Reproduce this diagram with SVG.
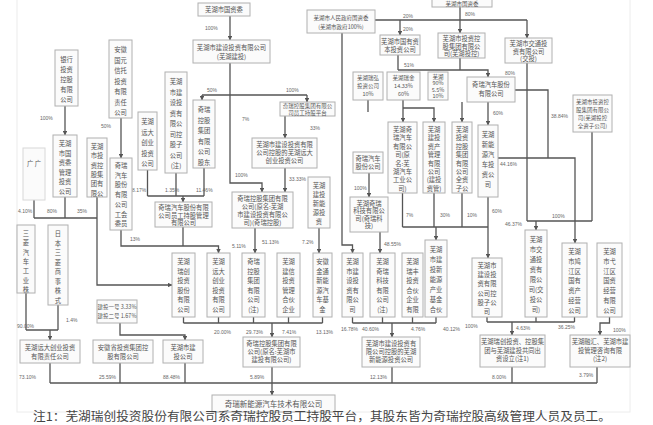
<svg xmlns="http://www.w3.org/2000/svg" width="653" height="425" viewBox="0 0 653 425">
<style>
.b{fill:#fbfbfb;stroke:#b0b0b0;stroke-width:1}
.f{fill:#fbfbfb;stroke:#d8d8d8;stroke-width:1}
.t{font-family:"Noto Sans CJK SC","Noto Sans",sans-serif;font-size:6.3px;fill:#555;text-anchor:middle}
.s{font-size:5.5px}
.p{font-family:"Liberation Sans","Noto Sans CJK SC",sans-serif;font-size:5px;fill:#666}
.c{fill:none;stroke:#555;stroke-width:1.3}
.a{marker-end:url(#ar)}
.note{font-family:"Noto Sans CJK SC",sans-serif;font-size:12px;fill:#444}
</style>
<defs>
<marker id="ar" viewBox="0 0 6 6" refX="5.5" refY="3" markerWidth="3.6" markerHeight="3.6" orient="auto"><path d="M0,0L6,3L0,6z" fill="#555"/></marker>
</defs>
<rect x="0" y="0" width="653" height="425" fill="#fff"/>
<rect x="17" y="-1" width="613" height="413" fill="none" stroke="#ececec"/>

<g id="connectors">
<path class="c a" d="M230,16V40"/>
<path class="c a" d="M230,63V183H262V192"/>
<path class="c" d="M202,95H307"/>
<path class="c a" d="M202,95V100"/>
<path class="c a" d="M307,95V102"/>
<path class="c a" d="M285,116V138"/>
<path class="c a" d="M285,168V192"/>
<path class="c" d="M147.5,170V196M176,173V196M204,168V196M147.5,196H204"/>
<path class="c a" d="M183,196V202"/>
<path class="c a" d="M121,118V158"/>
<path class="c a" d="M65,106V135"/>
<path class="c" d="M34,200V218M65,197V218M34,218H97"/>
<path class="c a" d="M97,197V285H172"/>
<path class="c" d="M183,227V246"/>
<path class="c a" d="M121,230V246H218.5V253"/>
<path class="c a" d="M255,228V253"/>
<path class="c a" d="M319,228V253"/>
<path class="c a" d="M342,33V245H352.5V253"/>
<path class="c" d="M375,20H527"/>
<path class="c a" d="M400,20V35"/>
<path class="c a" d="M460,7V33"/>
<path class="c a" d="M527,20V38"/>
<path class="c" d="M398,55V70M460,58V70"/>
<path class="c a" d="M398,70H488V77"/>
<path class="c" d="M368,100V112"/>
<path class="c a" d="M403,100V122"/>
<path class="c a" d="M403,108H434V122"/>
<path class="c a" d="M462,102V122"/>
<path class="c a" d="M488,102V125"/>
<path class="c" d="M515,90H548V158"/>
<path class="c a" d="M498,158H575V243"/>
<path class="c" d="M527,63V221M592,132V221M527,221H592"/>
<path class="c a" d="M536,221V230"/>
<path class="c" d="M402.5,193V227M434,193V227M462,193V227M402.5,227H488"/>
<path class="c a" d="M488,197V258"/>
<path class="c a" d="M436,227V240"/>
<path class="c a" d="M369,173V197"/>
<path class="c a" d="M380,232V253"/>
<path class="c" d="M183.5,317V323M218.5,317V323M253.5,317V323M288.5,317V323M322.5,317V323M183.5,323H322.5"/>
<path class="c a" d="M272,323V337"/>
<path class="c" d="M352.5,317V323M382.5,317V323M412.5,317V323M436,317V323M352.5,323H436"/>
<path class="c a" d="M392,323V337"/>
<path class="c" d="M487,317V322M536,317V322M574.5,317V322M487,322H574.5"/>
<path class="c a" d="M512,322V335"/>
<path class="c a" d="M609.5,317V323H600V335"/>
<path class="c" d="M26,293V330M58,305V330M26,330H58"/>
<path class="c a" d="M50,330V340"/>
<path class="c a" d="M120,323V335H185V340"/>
<path class="c" d="M50,363V383M120,363V383M185,363V383M272,367V383M392,367V383M512,367V383M597,367V383M50,383H597"/>
<path class="c a" d="M272,383V395"/>
</g>

<g id="labels" class="p">
<text x="205" y="30">100%</text>
<text x="207" y="92">50%</text>
<text x="286" y="92">100%</text>
<text x="242" y="121">7%</text>
<text x="310" y="130">33%</text>
<text x="235" y="177">100%</text>
<text x="289" y="181">33.33%</text>
<text x="40" y="120">100%</text>
<text x="101" y="128">50%</text>
<text x="132" y="192">8.17%</text>
<text x="165" y="192">1.35%</text>
<text x="196" y="192">11.46%</text>
<text x="130" y="241">13%</text>
<text x="18" y="213">4.10%</text>
<text x="47" y="213">80%</text>
<text x="77" y="213">35%</text>
<text x="232" y="248">5.11%</text>
<text x="262" y="244">51.13%</text>
<text x="302" y="244">7.2%</text>
<text x="384" y="246">48.55%</text>
<text x="403" y="18">20%</text>
<text x="403" y="31">20%</text>
<text x="465" y="16">80%</text>
<text x="404" y="67">51%</text>
<text x="505" y="75">80%</text>
<text x="493" y="115">60%</text>
<text x="551" y="118">38.84%</text>
<text x="500" y="166">44.16%</text>
<text x="354" y="190">100%</text>
<text x="406" y="217">7%</text>
<text x="440" y="217">30%</text>
<text x="467" y="217">10%</text>
<text x="492" y="213">60%</text>
<text x="505" y="226">46.37%</text>
<text x="552" y="218">100%</text>
<text x="214" y="334">20.00%</text>
<text x="246" y="334">29.73%</text>
<text x="282" y="334">7.41%</text>
<text x="316" y="334">13.13%</text>
<text x="341" y="331">16.78%</text>
<text x="362" y="331">40.60%</text>
<text x="411" y="331">4.76%</text>
<text x="443" y="331">40.12%</text>
<text x="465" y="328">100%</text>
<text x="516" y="330">4.63%</text>
<text x="558" y="329">36.25%</text>
<text x="613" y="332">100%</text>
<text x="66" y="322">1.4%</text>
<text x="17" y="328">90.00%</text>
<text x="19" y="379">73.10%</text>
<text x="99" y="379">25.59%</text>
<text x="163" y="379">88.48%</text>
<text x="250" y="379">5.89%</text>
<text x="370" y="379">12.13%</text>
<text x="492" y="379">8.00%</text>
<text x="579" y="377">3.79%</text>
</g>

<g id="B1"><rect class="b" x="198" y="3" width="52" height="13"/><text class="t" x="224" y="12">芜湖市国资委</text></g>
<g id="B2"><rect class="b" x="193" y="40" width="77" height="23"/><text class="t" x="231.5" y="49.5">芜湖市建设投资有限公司</text><text class="t" x="231.5" y="58.5">(芜湖建投)</text></g>
<g id="B3"><rect class="b" x="307" y="10" width="68" height="23"/><text class="t s" x="341" y="19.5">芜湖市人民政府国资委</text><text class="t s" x="341" y="28.5">(芜湖市政府100%)</text></g>
<g id="B4"><rect class="b" x="432" y="-3" width="60" height="10"/><text class="t s" x="462" y="5.6">芜湖市国资委</text></g>
<g id="B5"><rect class="b" x="380" y="35" width="40" height="20"/><text class="t" x="400" y="43.5">芜湖市国有资</text><text class="t" x="400" y="51.5">本投资公司</text></g>
<g id="B6"><rect class="b" x="438" y="33" width="47" height="25"/><text class="t" x="461.5" y="41">芜湖市投资控</text><text class="t" x="461.5" y="48.5">股集团有限公</text><text class="t" x="461.5" y="56">司(芜湖投控)</text></g>
<g id="B7"><rect class="b" x="505" y="38" width="47" height="25"/><text class="t" x="528.5" y="46">芜湖市交通投</text><text class="t" x="528.5" y="53.5">资有限公司</text><text class="t" x="528.5" y="61">(交投)</text></g>
<g id="M5"><rect class="b" x="280" y="102" width="55" height="14"/><text class="t s" x="307.5" y="108">奇瑞控股集团有限公</text><text class="t s" x="307.5" y="114.5">司员工持股平台</text></g>
<g id="M6"><rect class="b" x="252" y="138" width="65" height="30"/><text class="t" x="284.5" y="147">芜湖市建设投资有限</text><text class="t" x="284.5" y="155">公司控股的芜湖远大</text><text class="t" x="284.5" y="163">创业投资公司</text></g>
<g id="M2"><rect class="b" x="232" y="192" width="61" height="36"/><text class="t" x="262.5" y="200.5">奇瑞控股集团有限</text><text class="t" x="262.5" y="208.5">公司(原名:芜湖</text><text class="t" x="262.5" y="216.5">市建设投资有限公</text><text class="t" x="262.5" y="224.5">司)(奇瑞控股)</text></g>
<g id="M1"><rect class="b" x="155" y="202" width="57" height="25"/><text class="t" x="183.5" y="210">奇瑞汽车股份有限</text><text class="t" x="183.5" y="217.5">公司员工持股管理</text><text class="t" x="183.5" y="225">有限公司</text></g>
<g id="R1"><rect class="b" x="353" y="72" width="30" height="28"/><text class="t s" x="368" y="80">芜湖瑞弘</text><text class="t s" x="368" y="88">投资公司</text><text class="t s" x="368" y="96">10%</text></g>
<g id="R2"><rect class="b" x="387" y="72" width="33" height="28"/><text class="t s" x="403.5" y="80">芜湖瑞金</text><text class="t s" x="403.5" y="88">14.33%</text><text class="t s" x="403.5" y="96">60%</text></g>
<g id="R3"><rect class="b" x="428" y="72" width="20" height="28"/><text class="t s" x="438" y="78.5">芜湖</text><text class="t s" x="438" y="85">90%</text><text class="t s" x="438" y="91.5">5.5%</text><text class="t s" x="438" y="98">10%</text></g>
<g id="B8"><rect class="b" x="467" y="77" width="48" height="25"/><text class="t" x="491" y="87">奇瑞汽车股份</text><text class="t" x="491" y="96">有限公司</text></g>
<g id="B9"><rect class="b" x="573" y="95" width="39" height="37"/><text class="t s" x="592.5" y="104">芜湖市投资控</text><text class="t s" x="592.5" y="112">股集团有限公</text><text class="t s" x="592.5" y="120">司(芜湖投控</text><text class="t s" x="592.5" y="128">全资子公司)</text></g>
<g id="R8"><rect class="b" x="353" y="152" width="30" height="21"/><text class="t" x="368" y="161">奇瑞汽车</text><text class="t" x="368" y="169">股份公司</text></g>
<g id="R9"><rect class="b" x="350" y="197" width="38" height="35"/><text class="t" x="369" y="205.5">芜湖奇瑞</text><text class="t" x="369" y="213">科技有限公</text><text class="t" x="369" y="220.5">司(奇瑞科</text><text class="t" x="369" y="228">技)</text></g>

<g id="L1"><rect class="b" x="55" y="50" width="23" height="56"/><text class="t" x="66.5" y="62"><tspan x="66.5" dy="0">银行</tspan><tspan x="66.5" dy="10">投资</tspan><tspan x="66.5" dy="10">控股</tspan><tspan x="66.5" dy="10">有限</tspan><tspan x="66.5" dy="10">公司</tspan></text></g>
<g id="L2"><rect class="b" x="109" y="40" width="23" height="78"/><text class="t" x="120.5" y="52"><tspan x="120.5" dy="0">安徽</tspan><tspan x="120.5" dy="10.5">国元</tspan><tspan x="120.5" dy="10.5">信托</tspan><tspan x="120.5" dy="10.5">投资</tspan><tspan x="120.5" dy="10.5">有限</tspan><tspan x="120.5" dy="10.5">责任</tspan><tspan x="120.5" dy="10.5">公司</tspan></text></g>
<g id="L3"><rect class="b" x="138" y="112" width="19" height="58"/><text class="t" x="147.5" y="124"><tspan x="147.5" dy="0">芜湖</tspan><tspan x="147.5" dy="10.5">远大</tspan><tspan x="147.5" dy="10.5">创业</tspan><tspan x="147.5" dy="10.5">投资</tspan><tspan x="147.5" dy="10.5">公司</tspan></text></g>
<g id="L4"><rect class="b" x="165" y="72" width="22" height="101"/><text class="t" x="176" y="84"><tspan x="176" dy="0">芜湖</tspan><tspan x="176" dy="10.5">市建</tspan><tspan x="176" dy="10.5">设投</tspan><tspan x="176" dy="10.5">资有</tspan><tspan x="176" dy="10.5">限公</tspan><tspan x="176" dy="10.5">司控</tspan><tspan x="176" dy="10.5">股子</tspan><tspan x="176" dy="10.5">公司</tspan><tspan x="176" dy="10.5">(注)</tspan></text></g>
<g id="L5"><rect class="b" x="193" y="100" width="22" height="68"/><text class="t" x="204" y="112"><tspan x="204" dy="0">奇瑞</tspan><tspan x="204" dy="10.5">控股</tspan><tspan x="204" dy="10.5">集团</tspan><tspan x="204" dy="10.5">有限</tspan><tspan x="204" dy="10.5">公司</tspan><tspan x="204" dy="10.5">股东</tspan></text></g>
<g id="L6"><rect class="b" x="110" y="158" width="22" height="72"/><text class="t" x="121" y="168"><tspan x="121" dy="0">奇瑞</tspan><tspan x="121" dy="9.7">汽车</tspan><tspan x="121" dy="9.7">股份</tspan><tspan x="121" dy="9.7">有限</tspan><tspan x="121" dy="9.7">公司</tspan><tspan x="121" dy="9.7">工会</tspan><tspan x="121" dy="9.7">委员</tspan></text></g>
<g id="L7"><rect class="b" x="53" y="135" width="24" height="62"/><text class="t" x="65" y="146"><tspan x="65" dy="0">芜湖</tspan><tspan x="65" dy="9.5">市国</tspan><tspan x="65" dy="9.5">资委</tspan><tspan x="65" dy="9.5">管理</tspan><tspan x="65" dy="9.5">投资</tspan><tspan x="65" dy="9.5">公司</tspan></text></g>
<g id="L8"><rect class="b" x="87" y="138" width="20" height="59"/><text class="t" x="97" y="149"><tspan x="97" dy="0">芜湖</tspan><tspan x="97" dy="9.3">市投</tspan><tspan x="97" dy="9.3">资控</tspan><tspan x="97" dy="9.3">股集</tspan><tspan x="97" dy="9.3">团有</tspan><tspan x="97" dy="9.3">限公</tspan></text></g>
<g id="L9"><rect class="f" x="23" y="148" width="22" height="52"/><text class="t" x="34" y="166" fill="#999">广 广</text></g>
<g id="L10"><rect class="b" x="17" y="225" width="18" height="68"/><text class="t" x="26" y="236"><tspan x="26" dy="0">三</tspan><tspan x="26" dy="9.3">菱</tspan><tspan x="26" dy="9.3">汽</tspan><tspan x="26" dy="9.3">车</tspan><tspan x="26" dy="9.3">工</tspan><tspan x="26" dy="9.3">业</tspan><tspan x="26" dy="9.3">株</tspan></text></g>
<g id="L11"><rect class="b" x="48" y="225" width="20" height="80"/><text class="t" x="58" y="236"><tspan x="58" dy="0">日</tspan><tspan x="58" dy="9.5">本</tspan><tspan x="58" dy="9.5">三</tspan><tspan x="58" dy="9.5">菱</tspan><tspan x="58" dy="9.5">商</tspan><tspan x="58" dy="9.5">事</tspan><tspan x="58" dy="9.5">株</tspan><tspan x="58" dy="9.5">式</tspan></text></g>
<g id="MX"><rect class="b" x="308" y="177" width="22" height="51"/><text class="t" x="319" y="188"><tspan x="319" dy="0">芜湖</tspan><tspan x="319" dy="9">建投</tspan><tspan x="319" dy="9">新能</tspan><tspan x="319" dy="9">源投</tspan><tspan x="319" dy="9">资</tspan></text></g>

<g id="MB1"><rect class="b" x="172" y="253" width="23" height="64"/><text class="t" x="183.5" y="264"><tspan x="183.5" dy="0">芜湖</tspan><tspan x="183.5" dy="9.6">瑞创</tspan><tspan x="183.5" dy="9.6">投资</tspan><tspan x="183.5" dy="9.6">股份</tspan><tspan x="183.5" dy="9.6">有限</tspan><tspan x="183.5" dy="9.6">公司</tspan></text></g>
<g id="MB2"><rect class="b" x="207" y="253" width="23" height="64"/><text class="t" x="218.5" y="264"><tspan x="218.5" dy="0">芜湖</tspan><tspan x="218.5" dy="9.6">远大</tspan><tspan x="218.5" dy="9.6">创业</tspan><tspan x="218.5" dy="9.6">投资</tspan><tspan x="218.5" dy="9.6">有限</tspan><tspan x="218.5" dy="9.6">公司</tspan></text></g>
<g id="MB3"><rect class="b" x="242" y="253" width="23" height="64"/><text class="t" x="253.5" y="264"><tspan x="253.5" dy="0">奇瑞</tspan><tspan x="253.5" dy="9.6">控股</tspan><tspan x="253.5" dy="9.6">集团</tspan><tspan x="253.5" dy="9.6">有限</tspan><tspan x="253.5" dy="9.6">公司</tspan><tspan x="253.5" dy="9.6">(注)</tspan></text></g>
<g id="MB4"><rect class="b" x="277" y="253" width="23" height="64"/><text class="t" x="288.5" y="264"><tspan x="288.5" dy="0">芜湖</tspan><tspan x="288.5" dy="9.6">建信</tspan><tspan x="288.5" dy="9.6">投资</tspan><tspan x="288.5" dy="9.6">管理</tspan><tspan x="288.5" dy="9.6">合伙</tspan><tspan x="288.5" dy="9.6">企业</tspan></text></g>
<g id="MB5"><rect class="b" x="313" y="253" width="19" height="64"/><text class="t" x="322.5" y="264"><tspan x="322.5" dy="0">安徽</tspan><tspan x="322.5" dy="9.6">金通</tspan><tspan x="322.5" dy="9.6">新能</tspan><tspan x="322.5" dy="9.6">源汽</tspan><tspan x="322.5" dy="9.6">车基</tspan><tspan x="322.5" dy="9.6">金</tspan></text></g>
<g id="MB6"><rect class="b" x="342" y="253" width="21" height="64"/><text class="t" x="352.5" y="264"><tspan x="352.5" dy="0">芜湖</tspan><tspan x="352.5" dy="9.6">市建</tspan><tspan x="352.5" dy="9.6">设投</tspan><tspan x="352.5" dy="9.6">资有</tspan><tspan x="352.5" dy="9.6">限公</tspan><tspan x="352.5" dy="9.6">司</tspan></text></g>
<g id="MB7"><rect class="b" x="370" y="253" width="25" height="64"/><text class="t" x="382.5" y="264"><tspan x="382.5" dy="0">芜湖</tspan><tspan x="382.5" dy="9.6">奇瑞</tspan><tspan x="382.5" dy="9.6">科技</tspan><tspan x="382.5" dy="9.6">有限</tspan><tspan x="382.5" dy="9.6">公司</tspan><tspan x="382.5" dy="9.6">(注)</tspan></text></g>
<g id="MB8"><rect class="b" x="402" y="253" width="21" height="64"/><text class="t" x="412.5" y="264"><tspan x="412.5" dy="0">芜湖</tspan><tspan x="412.5" dy="9.6">瑞丰</tspan><tspan x="412.5" dy="9.6">投资</tspan><tspan x="412.5" dy="9.6">合伙</tspan><tspan x="412.5" dy="9.6">企业</tspan><tspan x="412.5" dy="9.6">有限</tspan></text></g>

<g id="R4"><rect class="b" x="388" y="122" width="29" height="71"/><text class="t" x="402.5" y="132"><tspan x="402.5" dy="0">芜湖奇</tspan><tspan x="402.5" dy="8.4">瑞汽车</tspan><tspan x="402.5" dy="8.4">有限公</tspan><tspan x="402.5" dy="8.4">司(原</tspan><tspan x="402.5" dy="8.4">名:芜</tspan><tspan x="402.5" dy="8.4">湖汽车</tspan><tspan x="402.5" dy="8.4">工业公</tspan><tspan x="402.5" dy="8.4">司)</tspan></text></g>
<g id="R5"><rect class="b" x="423" y="122" width="22" height="71"/><text class="t" x="434" y="132"><tspan x="434" dy="0">芜湖</tspan><tspan x="434" dy="8.4">建投</tspan><tspan x="434" dy="8.4">资产</tspan><tspan x="434" dy="8.4">管理</tspan><tspan x="434" dy="8.4">有限</tspan><tspan x="434" dy="8.4">公司</tspan><tspan x="434" dy="8.4">(建投</tspan><tspan x="434" dy="8.4">资管)</tspan></text></g>
<g id="R6"><rect class="b" x="452" y="122" width="20" height="71"/><text class="t" x="462" y="132"><tspan x="462" dy="0">芜湖</tspan><tspan x="462" dy="8.4">投资</tspan><tspan x="462" dy="8.4">控股</tspan><tspan x="462" dy="8.4">集团</tspan><tspan x="462" dy="8.4">有限</tspan><tspan x="462" dy="8.4">公司</tspan><tspan x="462" dy="8.4">全资</tspan><tspan x="462" dy="8.4">子公</tspan></text></g>
<g id="R7"><rect class="b" x="478" y="125" width="20" height="72"/><text class="t" x="488" y="137"><tspan x="488" dy="0">芜湖</tspan><tspan x="488" dy="10">新能</tspan><tspan x="488" dy="10">源汽</tspan><tspan x="488" dy="10">车投</tspan><tspan x="488" dy="10">资公</tspan><tspan x="488" dy="10">司</tspan></text></g>
<g id="R14"><rect class="b" x="425" y="240" width="22" height="77"/><text class="t" x="436" y="252"><tspan x="436" dy="0">芜湖</tspan><tspan x="436" dy="10">市建</tspan><tspan x="436" dy="10">投新</tspan><tspan x="436" dy="10">能源</tspan><tspan x="436" dy="10">产业</tspan><tspan x="436" dy="10">基金</tspan><tspan x="436" dy="10">合伙</tspan></text></g>
<g id="R10"><rect class="b" x="472" y="258" width="30" height="59"/><text class="t" x="487" y="268"><tspan x="487" dy="0">芜湖市</tspan><tspan x="487" dy="9.2">建设投</tspan><tspan x="487" dy="9.2">资有限</tspan><tspan x="487" dy="9.2">公司控</tspan><tspan x="487" dy="9.2">股子公</tspan><tspan x="487" dy="9.2">司</tspan></text></g>
<g id="R11"><rect class="b" x="525" y="230" width="22" height="87"/><text class="t" x="536" y="242"><tspan x="536" dy="0">芜湖</tspan><tspan x="536" dy="10">市交</tspan><tspan x="536" dy="10">通投</tspan><tspan x="536" dy="10">资有</tspan><tspan x="536" dy="10">限公</tspan><tspan x="536" dy="10">司(交</tspan><tspan x="536" dy="10">投公</tspan><tspan x="536" dy="10">司)</tspan></text></g>
<g id="R12"><rect class="b" x="562" y="243" width="25" height="74"/><text class="t" x="574.5" y="254"><tspan x="574.5" dy="0">芜湖</tspan><tspan x="574.5" dy="9.8">市鸠</tspan><tspan x="574.5" dy="9.8">江区</tspan><tspan x="574.5" dy="9.8">国有</tspan><tspan x="574.5" dy="9.8">资产</tspan><tspan x="574.5" dy="9.8">经营</tspan><tspan x="574.5" dy="9.8">公司</tspan></text></g>
<g id="R13"><rect class="b" x="597" y="243" width="25" height="74"/><text class="t" x="609.5" y="254"><tspan x="609.5" dy="0">芜湖</tspan><tspan x="609.5" dy="9.8">市弋</tspan><tspan x="609.5" dy="9.8">江区</tspan><tspan x="609.5" dy="9.8">国资</tspan><tspan x="609.5" dy="9.8">经营</tspan><tspan x="609.5" dy="9.8">有限</tspan><tspan x="609.5" dy="9.8">公司</tspan></text></g>

<g id="BL1"><rect class="b" x="20" y="340" width="60" height="23"/><text class="t" x="50" y="349.5">芜湖远大创业投资</text><text class="t" x="50" y="358.5">有限责任公司</text></g>
<g id="BL2"><rect class="b" x="93" y="340" width="60" height="23"/><text class="t" x="123" y="349.5">安徽省投资集团控</text><text class="t" x="123" y="358.5">股有限公司</text></g>
<g id="BL3"><rect class="b" x="163" y="340" width="40" height="23"/><text class="t" x="183" y="349.5">芜湖市建</text><text class="t" x="183" y="358.5">投公司</text></g>
<g id="BL4"><rect class="b" x="97" y="300" width="40" height="23"/><text class="t s" x="117" y="309">建投一号 3.33%</text><text class="t s" x="117" y="318">建投二号 1.67%</text></g>
<g id="M3"><rect class="b" x="243" y="337" width="57" height="30"/><text class="t" x="271.5" y="346">奇瑞控股集团有限</text><text class="t" x="271.5" y="354">公司(原名:芜湖市</text><text class="t" x="271.5" y="362">建投有限公司)</text></g>
<g id="M4"><rect class="b" x="362" y="337" width="58" height="30"/><text class="t" x="391" y="346">芜湖市建设投资有</text><text class="t" x="391" y="354">限公司控股的芜湖</text><text class="t" x="391" y="362">新能源投资公司</text></g>
<g id="BR1"><rect class="b" x="480" y="335" width="65" height="32"/><text class="t" x="512.5" y="344">芜湖瑞创投资、控股集</text><text class="t" x="512.5" y="352.5">团与芜湖建投共同出</text><text class="t" x="512.5" y="361">资设立(注1)</text></g>
<g id="BR2"><rect class="b" x="570" y="335" width="60" height="32"/><text class="t" x="600" y="344">芜湖融汇、芜湖市建</text><text class="t" x="600" y="352.5">投管理咨询有限</text><text class="t" x="600" y="361">(注2)</text></g>
<g id="BOTTOM"><rect class="b" x="212" y="395" width="123" height="17"/><text class="t" x="273.5" y="406.5" style="font-size:7.5px">奇瑞新能源汽车技术有限公司</text></g>

<text class="note" x="33" y="421" textLength="578" lengthAdjust="spacingAndGlyphs">注1：芜湖瑞创投资股份有限公司系奇瑞控股员工持股平台，其股东皆为奇瑞控股高级管理人员及员工。</text>
</svg>
